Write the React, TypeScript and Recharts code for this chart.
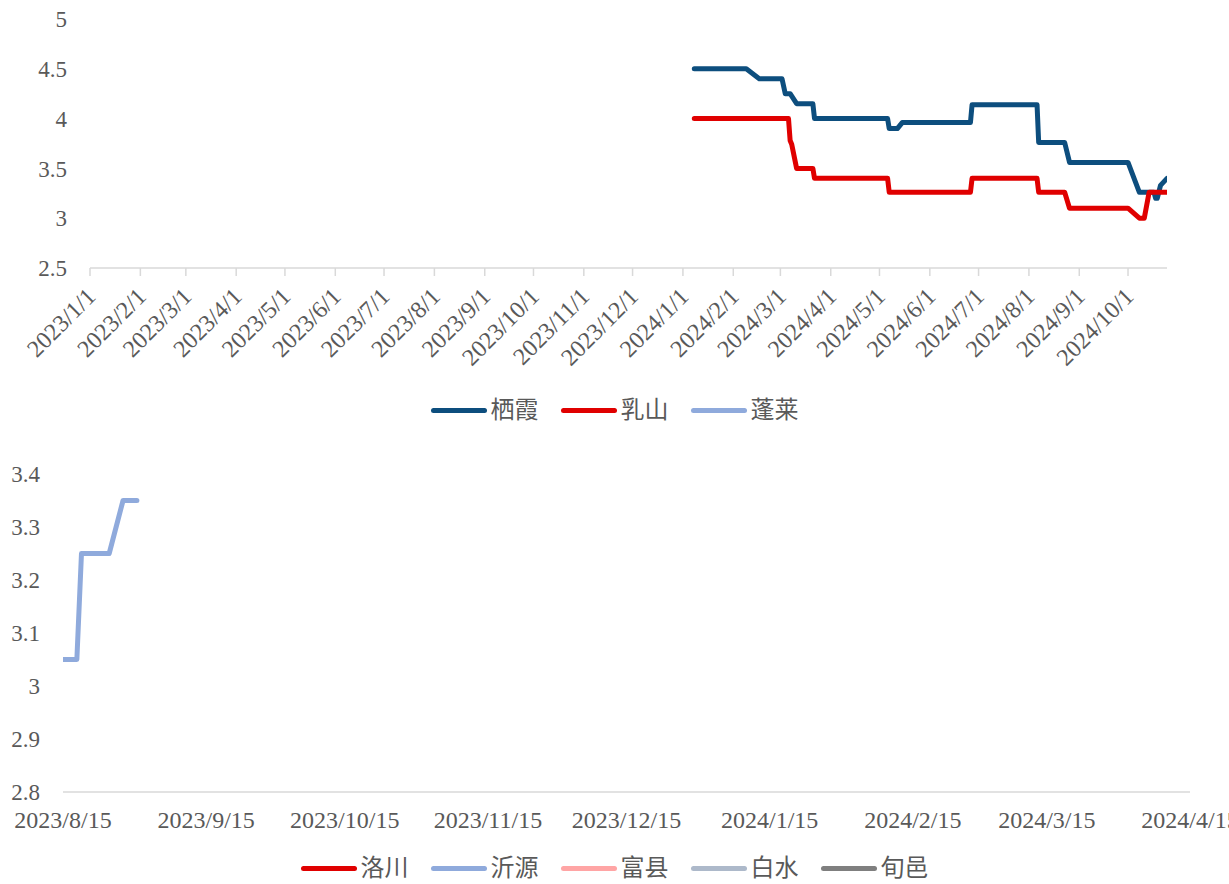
import React from 'react';
import { LineChart, Line, XAxis, YAxis } from 'recharts';

// ---- data ----
const topTickDates = [
  '2023-01-01', '2023-02-01', '2023-03-01', '2023-04-01', '2023-05-01', '2023-06-01',
  '2023-07-01', '2023-08-01', '2023-09-01', '2023-10-01', '2023-11-01', '2023-12-01',
  '2024-01-01', '2024-02-01', '2024-03-01', '2024-04-01', '2024-05-01', '2024-06-01',
  '2024-07-01', '2024-08-01', '2024-09-01', '2024-10-01',
];
const topRange = ['2023-01-01', '2024-10-25'];
const topYTicks = [2.5, 3, 3.5, 4, 4.5, 5];

const qixiaDates = [
  '2024-01-08', '2024-02-09', '2024-02-17', '2024-03-02', '2024-03-04', '2024-03-07',
  '2024-03-11', '2024-03-21', '2024-03-22', '2024-05-06', '2024-05-07', '2024-05-12',
  '2024-05-15', '2024-06-26', '2024-06-27', '2024-08-06', '2024-08-07', '2024-08-23',
  '2024-08-26', '2024-10-01', '2024-10-08', '2024-10-17', '2024-10-18', '2024-10-19',
  '2024-10-21', '2024-10-25',
];
const qixiaValues = [
  4.5, 4.5, 4.4, 4.4, 4.25, 4.25,
  4.15, 4.15, 4.0, 4.0, 3.9, 3.9,
  3.96, 3.96, 4.14, 4.14, 3.76, 3.76,
  3.56, 3.56, 3.26, 3.26, 3.2, 3.2,
  3.33, 3.4,
];

const rushanDates = [
  '2024-01-08', '2024-03-06', '2024-03-07', '2024-03-08', '2024-03-11', '2024-03-21',
  '2024-03-22', '2024-05-06', '2024-05-07', '2024-06-26', '2024-06-27', '2024-08-06',
  '2024-08-07', '2024-08-23', '2024-08-26', '2024-10-01', '2024-10-08', '2024-10-11',
  '2024-10-14', '2024-10-25',
];
const rushanValues = [
  4.0, 4.0, 3.78, 3.74, 3.5, 3.5,
  3.4, 3.4, 3.26, 3.26, 3.4, 3.4,
  3.26, 3.26, 3.1, 3.1, 3.0, 3.0,
  3.26, 3.26,
];

const penglaiDates: string[] = [];
const penglaiValues: number[] = [];

const bottomTickDates = [
  '2023-08-15', '2023-09-15', '2023-10-15', '2023-11-15', '2023-12-15',
  '2024-01-15', '2024-02-15', '2024-03-15', '2024-04-15',
];
const bottomRange = ['2023-08-15', '2024-04-15'];
const bottomYTicks = [2.8, 2.9, 3.0, 3.1, 3.2, 3.3, 3.4];

const yiyuanDates = ['2023-08-15', '2023-08-18', '2023-08-19', '2023-08-25', '2023-08-28', '2023-08-31'];
const yiyuanValues = [3.05, 3.05, 3.25, 3.25, 3.35, 3.35];

const topSeries = [
  { name: '栖霞', color: '#0D4E7E', dates: qixiaDates, values: qixiaValues },
  { name: '乳山', color: '#E00000', dates: rushanDates, values: rushanValues },
  { name: '蓬莱', color: '#8FAADC', dates: penglaiDates, values: penglaiValues },
];

const bottomSeries = [
  { name: '洛川', color: '#E00000', dates: [] as string[], values: [] as number[] },
  { name: '沂源', color: '#8FAADC', dates: yiyuanDates, values: yiyuanValues },
  { name: '富县', color: '#FFA5A5', dates: [] as string[], values: [] as number[] },
  { name: '白水', color: '#ADB9CA', dates: [] as string[], values: [] as number[] },
  { name: '旬邑', color: '#7F7F7F', dates: [] as string[], values: [] as number[] },
];

// ---- helpers ----
const toTime = (s: string) => {
  const [y, m, d] = s.split('-').map(Number);
  return Date.UTC(y, m - 1, d);
};
const fmtDate = (t: number) => {
  const d = new Date(t);
  return `${d.getUTCFullYear()}/${d.getUTCMonth() + 1}/${d.getUTCDate()}`;
};
const fmtNum = (v: number) => String(+v.toFixed(1));
const toPoints = (dates: string[], values: number[]) =>
  dates.map((d, i) => ({ t: toTime(d), v: values[i] }));

const FONT = '"Liberation Serif", "Times New Roman", serif';
const TEXT = '#595959';
const AXIS = '#D9D9D9';

function LegendRow({ items, top }: { items: { name: string; color: string }[]; top: number }) {
  return (
    <div
      style={{
        position: 'absolute',
        left: 0,
        top,
        width: 1229,
        display: 'flex',
        justifyContent: 'center',
        gap: 22,
        fontFamily: '"Liberation Serif", "Noto Sans CJK SC", serif',
        fontSize: 24,
        color: TEXT,
        lineHeight: '28px',
      }}
    >
      {items.map((it) => (
        <div key={it.name} style={{ display: 'flex', alignItems: 'center' }}>
          <span
            style={{
              display: 'inline-block',
              width: 56,
              height: 5,
              borderRadius: 3,
              background: it.color,
              marginRight: 4,
            }}
          />
          <span>{it.name}</span>
        </div>
      ))}
    </div>
  );
}

export default function App() {
  return (
    <div style={{ position: 'absolute', left: 0, top: 0, width: 1229, height: 884, background: '#fff' }}>
      {/* top chart */}
      <div style={{ position: 'absolute', left: 0, top: 0 }}>
        <LineChart width={1229} height={390} margin={{ top: 19, right: 62, bottom: 0, left: 0 }}>
          <XAxis
            dataKey="t"
            type="number"
            domain={topRange.map(toTime)}
            ticks={topTickDates.map(toTime)}
            interval={0}
            tickFormatter={fmtDate}
            height={122}
            axisLine={{ stroke: AXIS, strokeWidth: 1.5 }}
            tickLine={{ stroke: AXIS, strokeWidth: 1.5 }}
            tickSize={8}
            tickMargin={10}
            angle={-45}
            textAnchor="end"
            tick={{ fill: TEXT, fontSize: 24, fontFamily: FONT, dx: -5 }}
            allowDataOverflow
          />
          <YAxis
            type="number"
            domain={[2.5, 5]}
            ticks={topYTicks}
            interval={0}
            tickFormatter={fmtNum}
            width={90}
            axisLine={false}
            tickLine={false}
            tickSize={0}
            tickMargin={23}
            tick={{ fill: TEXT, fontSize: 23, fontFamily: FONT }}
          />
          {topSeries.map((s) => (
            <Line
              key={s.name}
              data={toPoints(s.dates, s.values)}
              dataKey="v"
              name={s.name}
              type="linear"
              stroke={s.color}
              strokeWidth={5}
              strokeLinejoin="round"
              strokeLinecap="round"
              dot={false}
              isAnimationActive={false}
            />
          ))}
        </LineChart>
      </div>
      <LegendRow items={topSeries} top={396} />

      {/* bottom chart */}
      <div style={{ position: 'absolute', left: 0, top: 440 }}>
        <LineChart width={1229} height={420} margin={{ top: 34, right: 39, bottom: 0, left: 0 }}>
          <XAxis
            dataKey="t"
            type="number"
            domain={bottomRange.map(toTime)}
            ticks={bottomTickDates.map(toTime)}
            interval={0}
            tickFormatter={fmtDate}
            height={68}
            axisLine={{ stroke: AXIS, strokeWidth: 1.5 }}
            tickLine={false}
            tickSize={0}
            tickMargin={19}
            tick={{ fill: TEXT, fontSize: 24, fontFamily: FONT }}
            allowDataOverflow
          />
          <YAxis
            type="number"
            domain={[2.8, 3.4]}
            ticks={bottomYTicks}
            interval={0}
            tickFormatter={fmtNum}
            width={63}
            axisLine={false}
            tickLine={false}
            tickSize={0}
            tickMargin={23}
            tick={{ fill: TEXT, fontSize: 23, fontFamily: FONT }}
          />
          {bottomSeries.map((s) => (
            <Line
              key={s.name}
              data={toPoints(s.dates, s.values)}
              dataKey="v"
              name={s.name}
              type="linear"
              stroke={s.color}
              strokeWidth={5}
              strokeLinejoin="round"
              strokeLinecap="round"
              dot={false}
              isAnimationActive={false}
            />
          ))}
        </LineChart>
      </div>
      <LegendRow items={bottomSeries} top={854} />
    </div>
  );
}
